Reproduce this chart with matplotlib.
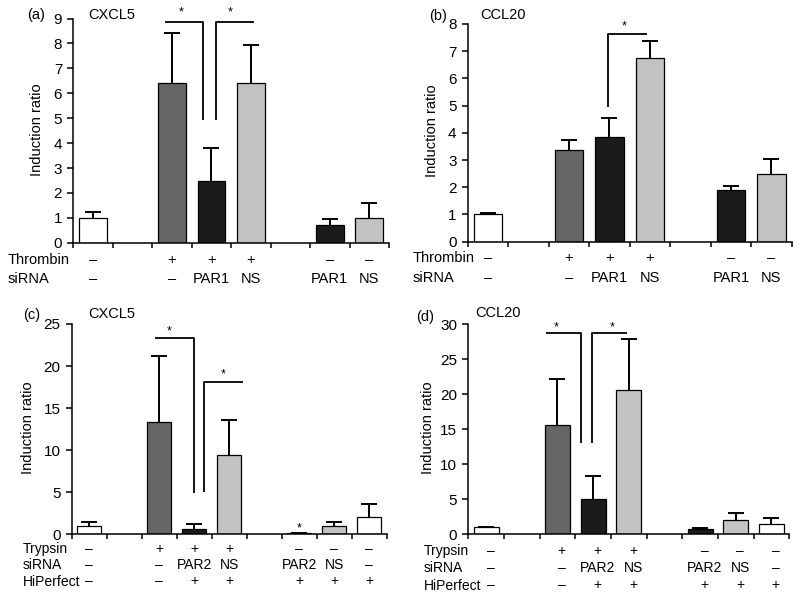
import numpy as np
import matplotlib
matplotlib.use("Agg")
import matplotlib.pyplot as plt
from matplotlib.transforms import blended_transform_factory

plt.rcParams['font.family'] = ['Liberation Sans', 'DejaVu Sans']

# colours of the four bar kinds
WHITE, DARK, BLACK, LIGHT = "white", "#666666", "#1c1a1a", "#c2c2c2"

# (a) CXCL5, thrombin / PAR1 siRNA  (None = empty slot)
a_vals = [1.0, None, 6.41, 2.46, 6.41, None, 0.70, 0.98]
a_errs = [1.22, None, 8.42, 3.80, 7.93, None, 0.94, 1.59]
a_cols = [WHITE, None, DARK, BLACK, LIGHT, None, BLACK, LIGHT]
a_rows = [("Thrombin", ["–", "", "+", "+", "+", "", "–", "–"]),
          ("siRNA", ["–", "", "–", "PAR1", "NS", "", "PAR1", "NS"])]

# (b) CCL20, thrombin / PAR1 siRNA
b_vals = [1.0, None, 3.37, 3.85, 6.75, None, 1.89, 2.49]
b_errs = [1.04, None, 3.73, 4.53, 7.37, None, 2.04, 3.05]
b_cols = a_cols
b_rows = a_rows

# (c) CXCL5, trypsin / PAR2 siRNA
c_vals = [1.0, None, 13.4, 0.59, 9.37, None, 0.12, 0.95, 2.05]
c_errs = [1.42, None, 21.2, 1.22, 13.6, None, 0.12, 1.42, 3.65]
c_cols = [WHITE, None, DARK, BLACK, LIGHT, None, BLACK, LIGHT, WHITE]
c_rows = [("Trypsin", ["–", "", "+", "+", "+", "", "–", "–", "–"]),
          ("siRNA", ["–", "", "–", "PAR2", "NS", "", "PAR2", "NS", "–"]),
          ("HiPerfect", ["–", "", "–", "+", "+", "", "+", "+", "+"])]

# (d) CCL20, trypsin / PAR2 siRNA
d_vals = [1.05, None, 15.6, 5.05, 20.6, None, 0.70, 2.0, 1.43]
d_errs = [1.05, None, 22.2, 8.33, 27.9, None, 0.95, 3.1, 2.29]
d_cols = c_cols
d_rows = c_rows

panels = [
    # letter, vals, errs, cols, rows, ymax, ystep, rect, row ys(px), row label x(px),
    # row fontsize, row label shift (slots), ylabel xy(px)
    ("(a)", a_vals, a_errs, a_cols, a_rows, 9, 1,
     [0.0916, 0.594, 0.3946, 0.375], [260, 279], 8, 10.5, 0.0, (37, 130)),
    ("(b)", b_vals, b_errs, b_cols, b_rows, 8, 1,
     [0.5846, 0.5958, 0.405, 0.3642], [258, 278], 413, 10.5, 0.0, (432, 131)),
    ("(c)", c_vals, c_errs, c_cols, c_rows, 25, 5,
     [0.0896, 0.1065, 0.3938, 0.3517], [549, 565, 581.5], 23, 10, 0.0, (28, 428)),
    ("(d)", d_vals, d_errs, d_cols, d_rows, 30, 5,
     [0.5854, 0.1065, 0.4012, 0.3512], [551.5, 568, 585.5], 424, 10, 0.12, (428, 428)),
]

# significance brackets as polylines in data coords
brackets = {
    "(a)": [[(1.82, 8.87), (2.78, 8.87), (2.78, 4.93)],
            [(3.12, 4.93), (3.12, 8.87), (4.09, 8.87)]],
    "(b)": [[(2.97, 4.94), (2.97, 7.62), (3.92, 7.62)]],
    "(c)": [[(1.88, 23.3), (2.99, 23.3), (2.99, 4.94)],
            [(3.29, 5.06), (3.29, 18.1), (4.39, 18.1)]],
    "(d)": [[(1.67, 28.7), (2.66, 28.7), (2.66, 13.0)],
            [(2.96, 13.0), (2.96, 28.7), (3.94, 28.7)]],
}
stars = {
    "(a)": [(2.24, 9.25), (3.48, 9.25)],
    "(b)": [(3.36, 7.92)],
    "(c)": [(2.28, 24.1), (3.83, 19.0), (6.0, 0.75)],
    "(d)": [(1.95, 29.6), (3.54, 29.6)],
}

W, H = 800, 598
fig = plt.figure(figsize=(8, 5.98), dpi=100)

for letter, vals, errs, cols, rows, ymax, ystep, rect, row_y, row_x, rfs, shift, ylab in panels:
    ax = fig.add_axes(rect)
    n = len(vals)
    idx = [i for i in range(n) if vals[i] is not None]
    v = np.array([vals[i] for i in idx])
    e = np.array([errs[i] for i in idx])
    ax.bar(idx, v, width=0.7, color=[cols[i] for i in idx],
           edgecolor="black", linewidth=0.9, zorder=2)
    # upper error bars only
    ax.vlines(idx, v, e, color="black", lw=1.4, zorder=1)
    ax.plot(idx, e, ls="none", marker="_", ms=11, mew=1.4, color="black", zorder=1)

    for pts in brackets[letter]:
        xs, ys = zip(*pts)
        ax.plot(xs, ys, color="black", lw=1.3, clip_on=False, solid_capstyle="butt")
    for sx, sy in stars[letter]:
        ax.text(sx, sy, "*", ha="center", va="center", fontsize=9, clip_on=False)

    ax.set_xlim(-0.5, n - 0.5)
    ax.set_ylim(0, ymax)
    ax.set_yticks(np.arange(0, ymax + 0.1, ystep))
    ax.set_xticks(np.arange(-0.5, n, 1.0))
    ax.set_xticklabels([])
    for s in ("top", "right"):
        ax.spines[s].set_visible(False)
    for s in ("left", "bottom"):
        ax.spines[s].set_linewidth(1.1)
    ax.tick_params(axis="y", direction="out", length=4, width=1.1, labelsize=11, pad=4)
    ax.tick_params(axis="x", direction="out", length=3.5, width=1.1)
    fig.text(ylab[0] / W, 1 - ylab[1] / H, "Induction ratio", rotation=90,
             fontsize=10.5, ha="center", va="center")

    # condition rows under the axis
    tr = blended_transform_factory(ax.transData, fig.transFigure)
    for (name, labels), yy in zip(rows, row_y):
        fy = 1 - yy / H
        fig.text(row_x / W, fy, name, fontsize=rfs, ha="left", va="center")
        for i, lab in enumerate(labels):
            if lab:
                ax.text(i + shift, fy, lab, transform=tr, fontsize=rfs, ha="center",
                        va="center", clip_on=False)

texts = [("(a)", 27, 15, "CXCL5", 88, 15), ("(b)", 429, 16, "CCL20", 480, 15),
         ("(c)", 23, 315, "CXCL5", 88, 314), ("(d)", 416, 317, "CCL20", 475, 313)]
for lt, lx, ly, gt, gx, gy in texts:
    fig.text(lx / W, 1 - ly / H, lt, fontsize=10.5, ha="left", va="center")
    fig.text(gx / W, 1 - gy / H, gt, fontsize=10.5, ha="left", va="center")

fig.savefig("out.png", dpi=100)
